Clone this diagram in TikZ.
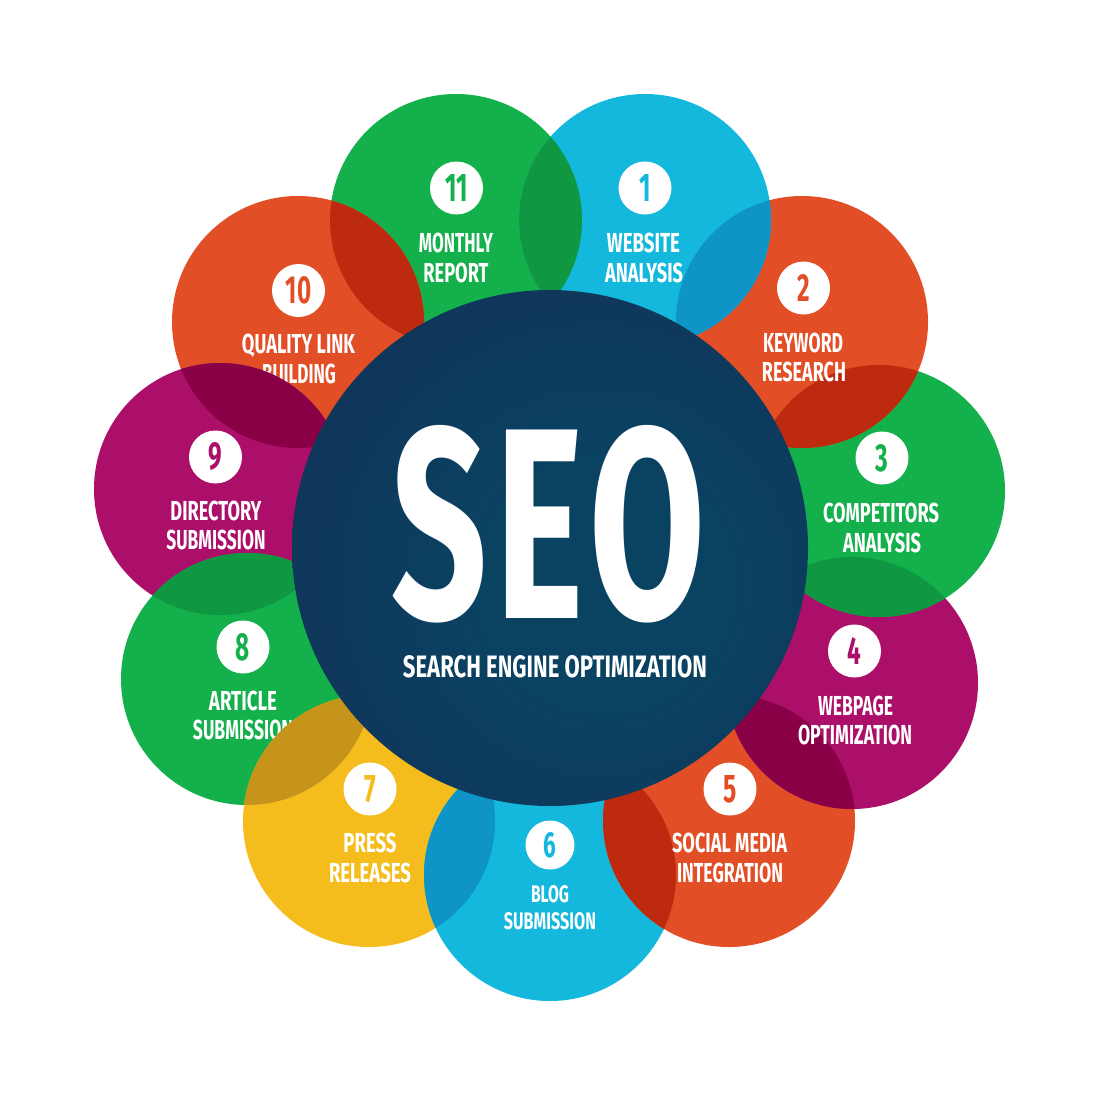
\documentclass[tikz,border=0pt]{standalone}
\usepackage{fontspec}
\usepackage{graphicx}
\newfontfamily\lblf[FakeStretch=0.62]{Fira Sans}
\newfontfamily\seof[FakeStretch=0.62, LetterSpace=3]{Fira Sans}
\definecolor{cyC}{HTML}{13B8DC}
\definecolor{cyD}{HTML}{0E94C6}
\definecolor{orC}{HTML}{E24E25}
\definecolor{orD}{HTML}{BD2A0F}
\definecolor{grC}{HTML}{13B04B}
\definecolor{grD}{HTML}{0F9841}
\definecolor{maC}{HTML}{AB0F69}
\definecolor{maD}{HTML}{8A0047}
\definecolor{yeC}{HTML}{F4BD1D}
\definecolor{yeD}{HTML}{C6941A}
\definecolor{seoIn}{HTML}{0A4262}
\definecolor{seoOut}{HTML}{172650}
\pgfdeclareradialshading{seoshade}{\pgfpoint{6bp}{-4bp}}{color(0bp)=(seoIn); color(12bp)=(seoIn); color(54bp)=(seoOut); color(100bp)=(seoOut)}
\newcommand\fitl[3]{\resizebox{#1pt}{#2pt}{#3}}
\newcommand\numt[3]{\textcolor{#1}{\resizebox{!}{#2pt}{#3}}}
\newcommand\ovl[3]{\begin{scope}\clip (#1) circle[radius=126];\fill[#3] (#2) circle[radius=126];\end{scope}}
\begin{document}
\begin{tikzpicture}[x=1pt,y=-1pt,
  lbl/.style={text=white, inner sep=0pt, anchor=base, font=\lblf\bfseries},
  badge/.style={circle, fill=white, inner sep=0pt, minimum size=53pt, font=\lblf\bfseries},
  smallbadge/.style={badge, minimum size=49pt}]
\fill[white] (0,0) rectangle (1100,1100);
\useasboundingbox (0,0) rectangle (1100,1100);
\coordinate (c1) at (645,220);
\coordinate (c2) at (802,322);
\coordinate (c3) at (879,491);
\coordinate (c4) at (852,683);
\coordinate (c5) at (729,821);
\coordinate (c6) at (550,875);
\coordinate (c7) at (369,821);
\coordinate (c8) at (247,679);
\coordinate (c9) at (220,489);
\coordinate (c10) at (298,322);
\coordinate (c11) at (456,220);
% 11
\fill[grC] (c11) circle[radius=126];
\node[badge] (b11) at (456.5,188) {\numt{grC}{27}{11}};
\node[lbl] (l11a) at (456,252) {\fitl{74}{19.5}{MONTHLY}};
\node[lbl] (l11b) at (456,282) {\fitl{65}{19.5}{REPORT}};
% 10
\fill[orC] (c10) circle[radius=126];
\ovl{c10}{c11}{orD}
\node[badge] (b10) at (298.5,290.5) {\numt{orC}{27}{10}};
\node[lbl] (l10a) at (298.5,353) {\fitl{113}{19.5}{QUALITY LINK}};
\node[lbl] (l10b) at (299,383) {\fitl{74}{19.5}{BUILDING}};
% 9
\fill[maC] (c9) circle[radius=126];
\ovl{c9}{c10}{maD}
\node[badge] (b9) at (215.5,457) {\numt{maC}{27}{9}};
\node[lbl] (l9a) at (216,520) {\fitl{91}{19.5}{DIRECTORY}};
\node[lbl] (l9b) at (216,549) {\fitl{99}{19.5}{SUBMISSION}};
% 8
\fill[grC] (c8) circle[radius=126];
\ovl{c8}{c9}{grD}
\node[badge] (b8) at (243,647) {\numt{grC}{27}{8}};
\node[lbl] (l8a) at (243,710) {\fitl{68}{19.5}{ARTICLE}};
\node[lbl] (l8b) at (243,739) {\fitl{100}{19.5}{SUBMISSION}};
% 7
\fill[yeC] (c7) circle[radius=126];
\ovl{c7}{c8}{yeD}
\node[badge] (b7) at (370,789) {\numt{yeC}{27}{7}};
\node[lbl] (l7a) at (370,852) {\fitl{53}{19.5}{PRESS}};
\node[lbl] (l7b) at (370,882) {\fitl{82}{19.5}{RELEASES}};
% 6
\fill[cyC] (c6) circle[radius=126];
\ovl{c6}{c7}{cyD}
\node[smallbadge] (b6) at (550,845) {\numt{cyC}{25}{6}};
\node[lbl] (l6a) at (550,902) {\fitl{38}{17}{BLOG}};
\node[lbl] (l6b) at (550,929) {\fitl{92}{17}{SUBMISSION}};
% 5
\fill[orC] (c5) circle[radius=126];
\ovl{c5}{c6}{orD}
\node[badge] (b5) at (730,789) {\numt{orC}{27}{5}};
\node[lbl] (l5a) at (729.5,852) {\fitl{115}{19.5}{SOCIAL MEDIA}};
\node[lbl] (l5b) at (730,882) {\fitl{106}{19.5}{INTEGRATION}};
% 4
\fill[maC] (c4) circle[radius=126];
\ovl{c4}{c5}{maD}
\node[badge] (b4) at (854.5,651) {\numt{maC}{27}{4}};
\node[lbl] (l4a) at (855.5,715) {\fitl{75}{19.5}{WEBPAGE}};
\node[lbl] (l4b) at (855,744) {\fitl{114}{19.5}{OPTIMIZATION}};
% 3
\fill[grC] (c3) circle[radius=126];
\ovl{c3}{c4}{grD}
\node[badge] (b3) at (882,458) {\numt{grC}{27}{3}};
\node[lbl] (l3a) at (881,522) {\fitl{116}{19.5}{COMPETITORS}};
\node[lbl] (l3b) at (882,552) {\fitl{78}{19.5}{ANALYSIS}};
% 2
\fill[orC] (c2) circle[radius=126];
\ovl{c2}{c3}{orD}
\node[badge] (b2) at (803.5,288) {\numt{orC}{27}{2}};
\node[lbl] (l2a) at (803,352) {\fitl{80}{19.5}{KEYWORD}};
\node[lbl] (l2b) at (804,381) {\fitl{84}{19.5}{RESEARCH}};
% 1
\fill[cyC] (c1) circle[radius=126];
\ovl{c1}{c2}{cyD}
\node[badge] (b1) at (645,188) {\numt{cyC}{27}{1}};
\node[lbl] (l1a) at (643.5,252) {\fitl{73}{19.5}{WEBSITE}};
\node[lbl] (l1b) at (644,282) {\fitl{78}{19.5}{ANALYSIS}};
% 11 over 1
\ovl{c1}{c11}{grD}
% centre
\node[circle, inner sep=0pt, minimum size=516pt, shading=seoshade] (seo) at (550,548) {};
\node[lbl, font=\seof\bfseries] (seotxt) at (549,618) {\fitl{314}{193}{SEO}};
\node[lbl] (seosub) at (555,677) {\fitl{304}{22}{SEARCH ENGINE OPTIMIZATION}};
\end{tikzpicture}
\end{document}
